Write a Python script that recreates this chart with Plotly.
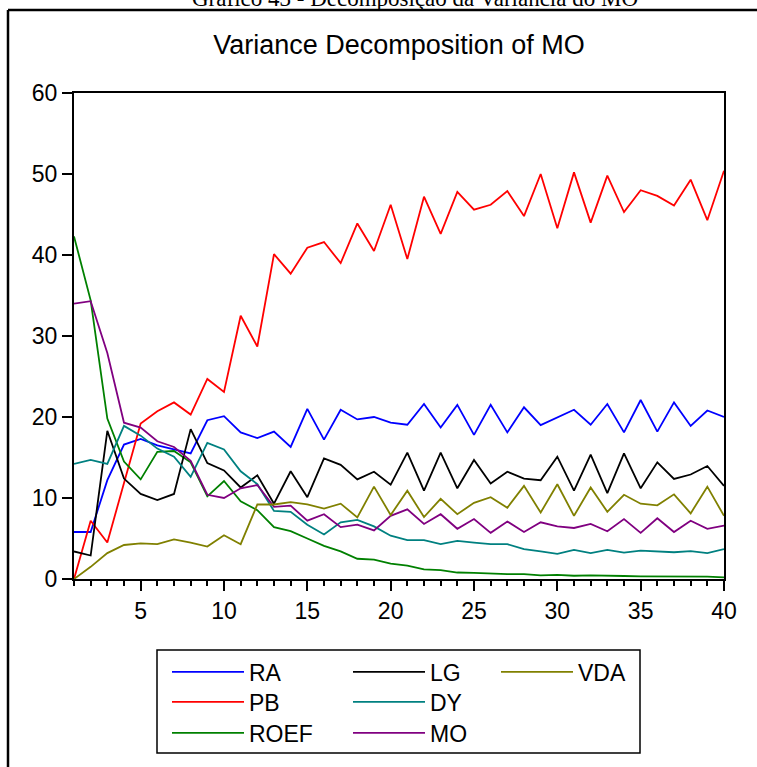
import plotly.graph_objects as go

periods = list(range(1, 41))

RA = [5.8, 5.8, 12.2, 16.6, 17.3, 16.5, 16.0, 15.5, 19.6, 20.1,
      18.1, 17.4, 18.2, 16.3, 21.0, 17.2, 20.9, 19.7, 20.0, 19.3,
      19.05, 21.6, 18.7, 21.5, 17.8, 21.5, 18.1, 21.2, 19.0, 20.0,
      20.9, 19.05, 21.6, 18.1, 22.1, 18.2, 21.8, 18.9, 20.8, 20.0]
PB = [0.0, 7.2, 4.5, 12.0, 19.2, 20.7, 21.8, 20.3, 24.7, 23.1,
      32.5, 28.7, 40.1, 37.7, 40.9, 41.6, 39.0, 43.9, 40.5, 46.2,
      39.5, 47.2, 42.6, 47.8, 45.6, 46.2, 47.9, 44.8, 50.0, 43.3,
      50.2, 44.0, 49.8, 45.3, 48.0, 47.3, 46.1, 49.3, 44.3, 50.4]
ROEF = [42.3, 34.4, 19.8, 14.5, 12.3, 15.7, 15.8, 14.4, 10.2, 12.1,
        9.6, 8.5, 6.4, 5.9, 5.0, 4.1, 3.4, 2.5, 2.4, 1.9,
        1.65, 1.2, 1.1, 0.8, 0.75, 0.65, 0.6, 0.6, 0.45, 0.5,
        0.4, 0.45, 0.37, 0.37, 0.33, 0.33, 0.3, 0.33, 0.3, 0.2]
LG = [3.4, 2.9, 18.3, 12.4, 10.5, 9.75, 10.5, 18.5, 14.3, 13.4,
      11.3, 12.8, 9.3, 13.3, 10.1, 14.9, 14.1, 12.3, 13.25, 11.65,
      15.6, 10.9, 15.6, 11.2, 14.7, 11.8, 13.25, 12.4, 12.2, 15.1,
      10.9, 15.35, 10.6, 15.5, 11.2, 14.4, 12.35, 12.9, 13.95, 11.5]
DY = [14.2, 14.7, 14.2, 18.9, 17.7, 16.1, 15.1, 12.6, 16.8, 16.0,
      13.3, 11.7, 8.4, 8.3, 6.7, 5.5, 7.0, 7.3, 6.5, 5.35,
      4.8, 4.8, 4.3, 4.7, 4.5, 4.3, 4.3, 3.7, 3.4, 3.1,
      3.6, 3.2, 3.6, 3.25, 3.5, 3.4, 3.3, 3.45, 3.2, 3.7]
MO = [34.0, 34.3, 27.9, 19.3, 18.7, 17.0, 16.3, 14.6, 10.4, 10.0,
      11.2, 11.6, 8.9, 9.05, 7.2, 8.0, 6.4, 6.7, 6.0, 7.8,
      8.6, 6.8, 8.0, 6.2, 7.4, 5.7, 7.1, 5.8, 7.0, 6.5,
      6.3, 6.8, 5.9, 7.4, 5.7, 7.5, 5.8, 7.2, 6.2, 6.6]
VDA = [0.0, 1.5, 3.2, 4.2, 4.4, 4.3, 4.9, 4.5, 4.0, 5.4,
       4.3, 9.2, 9.2, 9.5, 9.2, 8.7, 9.3, 7.6, 11.4, 7.9,
       10.9, 7.65, 9.9, 8.0, 9.4, 10.1, 8.8, 11.5, 8.2, 11.7,
       7.8, 11.3, 8.3, 10.4, 9.3, 9.1, 10.45, 8.1, 11.4, 7.8]

# name, values, colour, legend column, legend row
series = [
    ("RA", RA, "#0000FF", 0, 0),
    ("PB", PB, "#FF0000", 0, 1),
    ("ROEF", ROEF, "#008000", 0, 2),
    ("LG", LG, "#000000", 1, 0),
    ("DY", DY, "#008080", 1, 1),
    ("MO", MO, "#800080", 1, 2),
    ("VDA", VDA, "#808000", 2, 0),
]

W, H = 757, 767
L, R, T, B = 74, 724, 93, 579
PW, PH = R - L, B - T

def px(x):
    return (x - L) / PW

def py(y):
    return (B - y) / PH

FONT = "Arial, Liberation Sans, sans-serif"
col_x = [167, 348, 496]          # legend left edges (px)
row_c = [672, 702, 733]          # legend row centres (px)

fig = go.Figure()
legends = {}
for i, (name, vals, color, col, row) in enumerate(series):
    key = "legend" if i == 0 else f"legend{i + 1}"
    fig.add_trace(go.Scatter(x=periods, y=vals, mode="lines", name=name,
                             line=dict(color=color, width=1.8), legend=key))
    legends[key] = dict(x=px(col_x[col]), y=py(row_c[row]),
                        xanchor="left", yanchor="middle",
                        xref="paper", yref="paper",
                        font=dict(family=FONT, size=23, color="black"),
                        bgcolor="rgba(0,0,0,0)", borderwidth=0, itemwidth=72)

fig.update_layout(
    width=W, height=H,
    margin=dict(l=L, r=W - R, t=T, b=H - B),
    paper_bgcolor="white", plot_bgcolor="white",
    title=dict(text="Variance Decomposition of MO", xref="paper", x=0.5,
               xanchor="center", yref="container", y=1 - 35 / H, yanchor="top",
               font=dict(family=FONT, size=27, color="black")),
    xaxis=dict(range=[1, 40], tick0=5, dtick=5, ticks="outside", ticklen=10,
               tickwidth=1.5, tickcolor="black", showgrid=False, zeroline=False,
               showline=True, linecolor="black", linewidth=2, mirror=True,
               tickfont=dict(family=FONT, size=23, color="black"),
               minor=dict(dtick=1, tick0=1, ticks="outside", ticklen=5,
                          tickwidth=1.5, tickcolor="black", showgrid=False)),
    yaxis=dict(range=[0, 60], dtick=10, ticks="outside", ticklen=10,
               tickwidth=1.5, tickcolor="black", showgrid=False, zeroline=False,
               showline=True, linecolor="black", linewidth=2, mirror=True,
               tickfont=dict(family=FONT, size=23, color="black")),
    showlegend=True,
    **legends,
)

# legend frame
fig.add_shape(type="rect", xref="paper", yref="paper",
              x0=px(157), x1=px(640), y0=py(753), y1=py(650),
              line=dict(color="black", width=1.5), fillcolor="rgba(0,0,0,0)")
# outer frame (left and top edges)
fig.add_shape(type="line", xref="paper", yref="paper",
              x0=px(8), x1=px(8), y0=py(10), y1=py(780),
              line=dict(color="black", width=2.5))
fig.add_shape(type="line", xref="paper", yref="paper",
              x0=px(8), x1=px(770), y0=py(10), y1=py(10),
              line=dict(color="black", width=2.5))

# cut-off caption above the frame
fig.add_annotation(text="Gráfico 43 - Decomposição da Variância do MO",
                   xref="paper", yref="paper", x=px(415), y=py(13),
                   xanchor="center", yanchor="bottom", showarrow=False,
                   font=dict(family="Liberation Serif, Times New Roman, serif",
                             size=23, color="black"))

fig.write_html("out.html",
               config={"displayModeBar": False},
               post_script="document.body.style.margin='0';"
                           "document.body.style.overflow='hidden';")
